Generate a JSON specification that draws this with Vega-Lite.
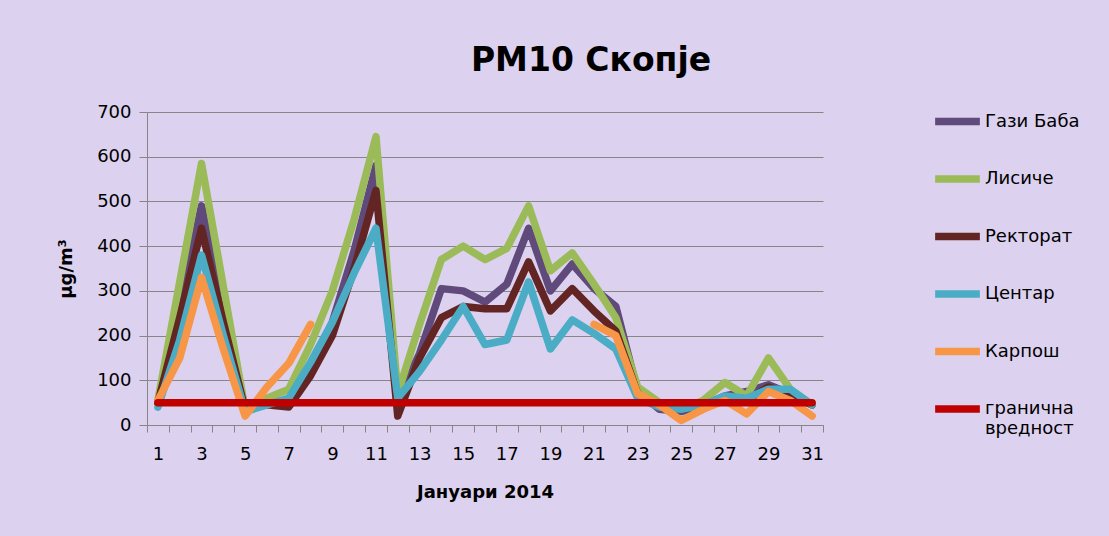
{
  "$schema": "https://vega.github.io/schema/vega-lite/v6.json",
  "width": 676,
  "height": 313,
  "autosize": "none",
  "padding": {"left": 147, "top": 112, "right": 286, "bottom": 111},
  "background": "#dcd1ee",
  "title": {"text": "PM10 Скопје", "anchor": "middle", "frame": "group", "dx": 106, "offset": 17, "fontSize": 33, "fontWeight": "bold", "font": "DejaVu Sans", "color": "#000000"},
  "datasets": {
    "pm": [
      {"day": 1, "station": "Гази Баба", "value": 50}, {"day": 2, "station": "Гази Баба", "value": 260}, {"day": 3, "station": "Гази Баба", "value": 490}, {"day": 4, "station": "Гази Баба", "value": 260}, {"day": 5, "station": "Гази Баба", "value": 35}, {"day": 6, "station": "Гази Баба", "value": 50}, {"day": 7, "station": "Гази Баба", "value": 55}, {"day": 8, "station": "Гази Баба", "value": 130}, {"day": 9, "station": "Гази Баба", "value": 230}, {"day": 10, "station": "Гази Баба", "value": 390}, {"day": 11, "station": "Гази Баба", "value": 580}, {"day": 12, "station": "Гази Баба", "value": 55}, {"day": 13, "station": "Гази Баба", "value": 160}, {"day": 14, "station": "Гази Баба", "value": 305}, {"day": 15, "station": "Гази Баба", "value": 300}, {"day": 16, "station": "Гази Баба", "value": 275}, {"day": 17, "station": "Гази Баба", "value": 315}, {"day": 18, "station": "Гази Баба", "value": 440}, {"day": 19, "station": "Гази Баба", "value": 300}, {"day": 20, "station": "Гази Баба", "value": 360}, {"day": 21, "station": "Гази Баба", "value": 305}, {"day": 22, "station": "Гази Баба", "value": 265}, {"day": 23, "station": "Гази Баба", "value": 75}, {"day": 24, "station": "Гази Баба", "value": 35}, {"day": 25, "station": "Гази Баба", "value": 30}, {"day": 26, "station": "Гази Баба", "value": 45}, {"day": 27, "station": "Гази Баба", "value": 65}, {"day": 28, "station": "Гази Баба", "value": 75}, {"day": 29, "station": "Гази Баба", "value": 90}, {"day": 30, "station": "Гази Баба", "value": 70}, {"day": 31, "station": "Гази Баба", "value": 45},
      {"day": 1, "station": "Лисиче", "value": 55}, {"day": 2, "station": "Лисиче", "value": 320}, {"day": 3, "station": "Лисиче", "value": 585}, {"day": 4, "station": "Лисиче", "value": 310}, {"day": 5, "station": "Лисиче", "value": 35}, {"day": 6, "station": "Лисиче", "value": 60}, {"day": 7, "station": "Лисиче", "value": 80}, {"day": 8, "station": "Лисиче", "value": 180}, {"day": 9, "station": "Лисиче", "value": 300}, {"day": 10, "station": "Лисиче", "value": 460}, {"day": 11, "station": "Лисиче", "value": 645}, {"day": 12, "station": "Лисиче", "value": 70}, {"day": 13, "station": "Лисиче", "value": 225}, {"day": 14, "station": "Лисиче", "value": 370}, {"day": 15, "station": "Лисиче", "value": 400}, {"day": 16, "station": "Лисиче", "value": 370}, {"day": 17, "station": "Лисиче", "value": 395}, {"day": 18, "station": "Лисиче", "value": 490}, {"day": 19, "station": "Лисиче", "value": 345}, {"day": 20, "station": "Лисиче", "value": 385}, {"day": 21, "station": "Лисиче", "value": 315}, {"day": 22, "station": "Лисиче", "value": 240}, {"day": 23, "station": "Лисиче", "value": 85}, {"day": 24, "station": "Лисиче", "value": 50}, {"day": 25, "station": "Лисиче", "value": 35}, {"day": 26, "station": "Лисиче", "value": 55}, {"day": 27, "station": "Лисиче", "value": 95}, {"day": 28, "station": "Лисиче", "value": 65}, {"day": 29, "station": "Лисиче", "value": 150}, {"day": 30, "station": "Лисиче", "value": 80}, {"day": 31, "station": "Лисиче", "value": 45},
      {"day": 1, "station": "Ректорат", "value": 50}, {"day": 2, "station": "Ректорат", "value": 240}, {"day": 3, "station": "Ректорат", "value": 440}, {"day": 4, "station": "Ректорат", "value": 230}, {"day": 5, "station": "Ректорат", "value": 35}, {"day": 6, "station": "Ректорат", "value": 45}, {"day": 7, "station": "Ректорат", "value": 40}, {"day": 8, "station": "Ректорат", "value": 110}, {"day": 9, "station": "Ректорат", "value": 200}, {"day": 10, "station": "Ректорат", "value": 350}, {"day": 11, "station": "Ректорат", "value": 525}, {"day": 12, "station": "Ректорат", "value": 20}, {"day": 13, "station": "Ректорат", "value": 150}, {"day": 14, "station": "Ректорат", "value": 240}, {"day": 15, "station": "Ректорат", "value": 265}, {"day": 16, "station": "Ректорат", "value": 260}, {"day": 17, "station": "Ректорат", "value": 260}, {"day": 18, "station": "Ректорат", "value": 365}, {"day": 19, "station": "Ректорат", "value": 255}, {"day": 20, "station": "Ректорат", "value": 305}, {"day": 21, "station": "Ректорат", "value": 255}, {"day": 22, "station": "Ректорат", "value": 210}, {"day": 23, "station": "Ректорат", "value": 70}, {"day": 24, "station": "Ректорат", "value": 40}, {"day": 25, "station": "Ректорат", "value": 35}, {"day": 26, "station": "Ректорат", "value": 45}, {"day": 27, "station": "Ректорат", "value": 60}, {"day": 28, "station": "Ректорат", "value": 55}, {"day": 29, "station": "Ректорат", "value": 85}, {"day": 30, "station": "Ректорат", "value": 65}, {"day": 31, "station": "Ректорат", "value": 45},
      {"day": 1, "station": "Центар", "value": 40}, {"day": 2, "station": "Центар", "value": 190}, {"day": 3, "station": "Центар", "value": 380}, {"day": 4, "station": "Центар", "value": 200}, {"day": 5, "station": "Центар", "value": 30}, {"day": 6, "station": "Центар", "value": 45}, {"day": 7, "station": "Центар", "value": 60}, {"day": 8, "station": "Центар", "value": 140}, {"day": 9, "station": "Центар", "value": 230}, {"day": 10, "station": "Центар", "value": 340}, {"day": 11, "station": "Центар", "value": 440}, {"day": 12, "station": "Центар", "value": 60}, {"day": 13, "station": "Центар", "value": 120}, {"day": 14, "station": "Центар", "value": 190}, {"day": 15, "station": "Центар", "value": 265}, {"day": 16, "station": "Центар", "value": 180}, {"day": 17, "station": "Центар", "value": 190}, {"day": 18, "station": "Центар", "value": 320}, {"day": 19, "station": "Центар", "value": 170}, {"day": 20, "station": "Центар", "value": 235}, {"day": 21, "station": "Центар", "value": 205}, {"day": 22, "station": "Центар", "value": 170}, {"day": 23, "station": "Центар", "value": 60}, {"day": 24, "station": "Центар", "value": 40}, {"day": 25, "station": "Центар", "value": 35}, {"day": 26, "station": "Центар", "value": 45}, {"day": 27, "station": "Центар", "value": 65}, {"day": 28, "station": "Центар", "value": 60}, {"day": 29, "station": "Центар", "value": 80}, {"day": 30, "station": "Центар", "value": 80}, {"day": 31, "station": "Центар", "value": 45},
      {"day": 1, "station": "Карпош", "value": 55}, {"day": 2, "station": "Карпош", "value": 150}, {"day": 3, "station": "Карпош", "value": 330}, {"day": 4, "station": "Карпош", "value": 170}, {"day": 5, "station": "Карпош", "value": 20}, {"day": 6, "station": "Карпош", "value": 85}, {"day": 7, "station": "Карпош", "value": 138}, {"day": 8, "station": "Карпош", "value": 225}, {"day": 9, "station": "Карпош", "value": null}, {"day": 10, "station": "Карпош", "value": null}, {"day": 11, "station": "Карпош", "value": null}, {"day": 12, "station": "Карпош", "value": null}, {"day": 13, "station": "Карпош", "value": null}, {"day": 14, "station": "Карпош", "value": null}, {"day": 15, "station": "Карпош", "value": null}, {"day": 16, "station": "Карпош", "value": null}, {"day": 17, "station": "Карпош", "value": null}, {"day": 18, "station": "Карпош", "value": null}, {"day": 19, "station": "Карпош", "value": null}, {"day": 20, "station": "Карпош", "value": null}, {"day": 21, "station": "Карпош", "value": 225}, {"day": 22, "station": "Карпош", "value": 200}, {"day": 23, "station": "Карпош", "value": 70}, {"day": 24, "station": "Карпош", "value": 45}, {"day": 25, "station": "Карпош", "value": 10}, {"day": 26, "station": "Карпош", "value": 35}, {"day": 27, "station": "Карпош", "value": 55}, {"day": 28, "station": "Карпош", "value": 25}, {"day": 29, "station": "Карпош", "value": 75}, {"day": 30, "station": "Карпош", "value": 55}, {"day": 31, "station": "Карпош", "value": 20},
      {"day": 1, "station": "гранична вредност", "value": 50}, {"day": 2, "station": "гранична вредност", "value": 50}, {"day": 3, "station": "гранична вредност", "value": 50}, {"day": 4, "station": "гранична вредност", "value": 50}, {"day": 5, "station": "гранична вредност", "value": 50}, {"day": 6, "station": "гранична вредност", "value": 50}, {"day": 7, "station": "гранична вредност", "value": 50}, {"day": 8, "station": "гранична вредност", "value": 50}, {"day": 9, "station": "гранична вредност", "value": 50}, {"day": 10, "station": "гранична вредност", "value": 50}, {"day": 11, "station": "гранична вредност", "value": 50}, {"day": 12, "station": "гранична вредност", "value": 50}, {"day": 13, "station": "гранична вредност", "value": 50}, {"day": 14, "station": "гранична вредност", "value": 50}, {"day": 15, "station": "гранична вредност", "value": 50}, {"day": 16, "station": "гранична вредност", "value": 50}, {"day": 17, "station": "гранична вредност", "value": 50}, {"day": 18, "station": "гранична вредност", "value": 50}, {"day": 19, "station": "гранична вредност", "value": 50}, {"day": 20, "station": "гранична вредност", "value": 50}, {"day": 21, "station": "гранична вредност", "value": 50}, {"day": 22, "station": "гранична вредност", "value": 50}, {"day": 23, "station": "гранична вредност", "value": 50}, {"day": 24, "station": "гранична вредност", "value": 50}, {"day": 25, "station": "гранична вредност", "value": 50}, {"day": 26, "station": "гранична вредност", "value": 50}, {"day": 27, "station": "гранична вредност", "value": 50}, {"day": 28, "station": "гранична вредност", "value": 50}, {"day": 29, "station": "гранична вредност", "value": 50}, {"day": 30, "station": "гранична вредност", "value": 50}, {"day": 31, "station": "гранична вредност", "value": 50}
    ]
  },
  "data": {"name": "pm"},
  "mark": {"type": "line", "strokeJoin": "round", "strokeCap": "round", "invalid": "break-paths-show-domains"},
  "encoding": {
    "x": {
      "field": "day", "type": "ordinal", "bandPosition": 0.5,
      "scale": {"type": "band", "paddingInner": 0, "paddingOuter": 0},
      "axis": {
        "title": "Јануари 2014", "titleFontSize": 18, "titleFontWeight": "bold", "titleColor": "#000000", "titlePadding": 20,
        "labelFontSize": 18, "labelColor": "#000000", "labelAngle": 0, "labelPadding": 13, "labelOverlap": false,
        "labelExpr": "datum.value % 2 == 1 ? datum.label : ''",
        "tickBand": "extent", "tickSize": 7, "tickColor": "#868686", "domainColor": "#868686", "grid": false
      }
    },
    "y": {
      "field": "value", "type": "quantitative",
      "scale": {"domain": [0, 700], "nice": false},
      "axis": {
        "title": "μg/m³", "titleFontSize": 18, "titleFontWeight": "bold", "titleColor": "#000000", "titlePadding": 21,
        "values": [0, 100, 200, 300, 400, 500, 600, 700],
        "labelFontSize": 18, "labelColor": "#000000", "labelPadding": 8,
        "tickSize": 8, "tickColor": "#868686", "domainColor": "#868686",
        "grid": true, "gridColor": "#868686", "gridWidth": 1.2
      }
    },
    "color": {
      "field": "station", "type": "nominal",
      "scale": {
        "domain": ["Гази Баба", "Лисиче", "Ректорат", "Центар", "Карпош", "гранична вредност"],
        "range": ["#604a7b", "#9bbb59", "#632523", "#4bacc6", "#f79646", "#c00000"]
      },
      "legend": {
        "title": null, "orient": "none", "legendX": 784, "legendY": -17,
        "symbolType": "stroke", "symbolSize": 2000, "symbolStrokeWidth": 7,
        "labelFontSize": 18, "labelColor": "#000000", "labelOffset": 1, "rowPadding": 15.5, "labelLimit": 200,
        "labelExpr": "datum.label == 'гранична вредност' ? ['гранична', 'вредност'] : datum.label"
      }
    },
    "strokeWidth": {
      "field": "station", "type": "nominal",
      "scale": {
        "domain": ["Гази Баба", "Лисиче", "Ректорат", "Центар", "Карпош", "гранична вредност"],
        "range": [7.5, 7.5, 7.5, 7.5, 7.5, 9]
      },
      "legend": null
    }
  },
  "config": {
    "view": {"stroke": null},
    "font": "DejaVu Sans"
  }
}
